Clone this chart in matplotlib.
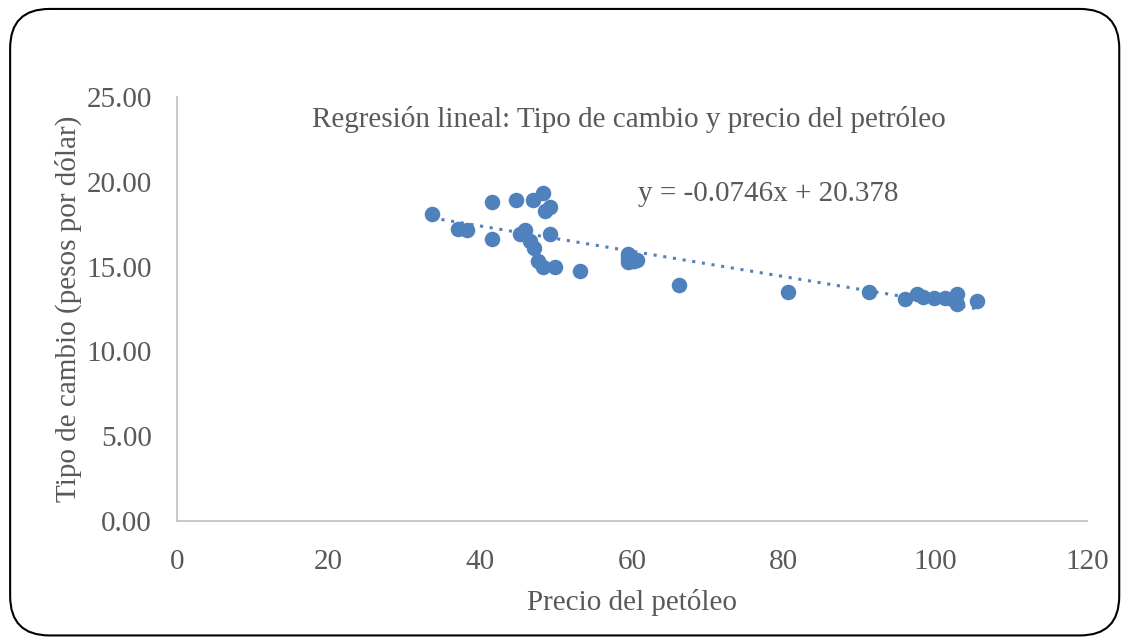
import matplotlib
matplotlib.use("Agg")
import matplotlib.pyplot as plt
import numpy as np
from matplotlib.patches import FancyBboxPatch

plt.rcParams["font.family"] = ["Liberation Serif", "DejaVu Serif"]

# oil price (x) and exchange rate (y)
precio = [33.6, 37.1, 38.3, 41.6, 41.6, 44.7, 46.9, 48.2, 48.5, 49.2,
          45.2, 45.9, 46.5, 47.1, 49.2, 47.6, 48.3, 49.8, 53.2, 59.5,
          60.2, 59.5, 60.0, 59.5, 60.6, 66.2, 80.6, 91.2, 96.0, 97.6,
          98.4, 99.8, 101.3, 102.2, 102.8, 102.8, 105.5]
tipo_cambio = [18.1, 17.2, 17.15, 18.8, 16.6, 18.9, 18.9, 19.35, 18.3, 18.5,
               16.9, 17.15, 16.5, 16.1, 16.95, 15.35, 14.95, 15.0, 14.75, 15.5,
               15.35, 15.75, 15.35, 15.25, 15.4, 13.9, 13.5, 13.5, 13.1, 13.4,
               13.2, 13.15, 13.15, 13.1, 13.4, 12.8, 13.0]

slope, intercept = -0.0746, 20.378
color = "#4F81BD"
grey = "#595959"

fig = plt.figure(figsize=(11.26, 6.38), dpi=100)
border = FancyBboxPatch((0.009, 0.004), 0.985, 0.982,
                        boxstyle="round,pad=0,rounding_size=0.035",
                        transform=fig.transFigure, fill=False,
                        edgecolor="black", linewidth=1.5, mutation_aspect=11.26 / 6.38)
fig.patches.append(border)

ax = fig.add_axes([0.1572, 0.1834, 0.8082, 0.6646])
ax.scatter(precio, tipo_cambio, s=125, color=color, zorder=3, linewidths=0)
xs = np.array([min(precio), max(precio)])
ax.plot(xs, slope * xs + intercept, linestyle=(0, (1, 2.2)), color=color,
        linewidth=2.2, zorder=2)

ax.set_xlim(0, 120)
ax.set_ylim(0, 25)
ax.set_xticks(range(0, 121, 20))
ax.set_yticks(np.arange(0, 25.1, 5))
ax.set_yticklabels([f"{v:.2f}" for v in np.arange(0, 25.1, 5)])
ax.tick_params(length=0, labelsize=21, labelcolor=grey, pad=18)
ax.tick_params(axis="x", pad=20)
for s in ["top", "right"]:
    ax.spines[s].set_visible(False)
for s in ["left", "bottom"]:
    ax.spines[s].set_color("#BFBFBF")
    ax.spines[s].set_linewidth(1.2)

ax.set_xlabel("Precio del petóleo", fontsize=21, color=grey, labelpad=10)
ax.set_ylabel("Tipo de cambio (pesos por dólar)", fontsize=21, color=grey, labelpad=3)

ax.text(0.496, 0.948, "Regresión lineal: Tipo de cambio y precio del petróleo",
        transform=ax.transAxes, ha="center", va="center", fontsize=21, color=grey)
ax.text(0.65, 0.77, "y = -0.0746x + 20.378", transform=ax.transAxes,
        ha="center", va="center", fontsize=21, color=grey)

fig.savefig("out.png", dpi=100)
